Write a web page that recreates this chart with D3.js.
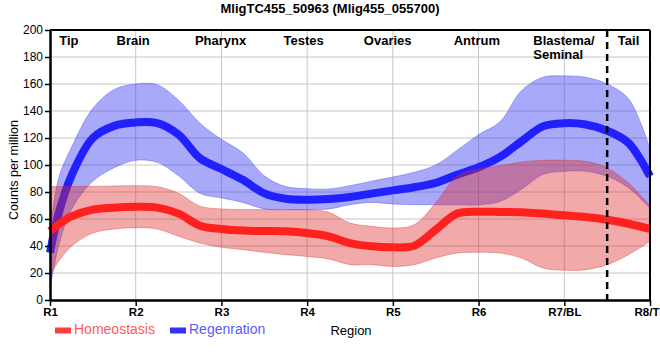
<!DOCTYPE html>
<html>
<head>
<meta charset="utf-8">
<script src="https://cdn.jsdelivr.net/npm/d3@7"></script>
<style>
  body { margin: 0; background: #fff; }
  text { font-family: "Liberation Sans", Arial, sans-serif; }
</style>
</head>
<body>
<svg class="chart" width="660" height="360"></svg>
<script>
// region ticks along the x axis
const regions = ["R1", "R2", "R3", "R4", "R5", "R6", "R7/BL", "R8/TL"];

// sample positions along the worm (in region units, R1 = 0)
const pos = [0, 0.1, 0.25, 0.5, 0.75, 1, 1.25, 1.5, 1.75, 2, 2.25, 2.5, 2.75, 3, 3.25, 3.5,
  3.75, 4, 4.25, 4.5, 4.75, 5, 5.25, 5.5, 5.75, 6, 6.25, 6.5, 6.75, 7];

// Homeostasis
const homeoMean = [51, 56, 62, 67, 68.4, 69, 68.4, 64, 55, 52.6, 51.4, 51.1, 50.9, 49.6, 47.2, 42.2,
  39.8, 39, 40.2, 52, 64, 65.4, 65.2, 65, 64, 62.7, 61.5, 59.5, 56.5, 52.6];
const homeoHigh = [84, 84, 84, 84.2, 84.5, 84.7, 84, 79, 69.5, 67.5, 67, 67, 66.9, 66.9, 65, 57,
  54.6, 53.3, 55.8, 72, 91.6, 97, 99.5, 102.2, 103.5, 103.5, 102.7, 97.8, 86.7, 70];
const homeoLow = [18, 28.6, 39.8, 49.6, 52.6, 53.6, 52.6, 47.2, 42.2, 39, 37.3, 35.3, 33.6, 32.3, 30.4, 26.2,
  26.2, 24.9, 26.2, 31.1, 34.8, 35.3, 34.8, 31.1, 23.7, 22, 22.5, 26.2, 33.6, 43.5];

// Regeneration
const regenMean = [35, 64, 92, 120, 129, 131.5, 131, 122.5, 105, 97, 89, 79, 75, 74.3, 74.8, 76.3,
  78.8, 81.2, 83.5, 86.7, 92.8, 98.3, 106, 117.5, 128.6, 131, 130, 125.4, 116.3, 91.6];
const regenHigh = [50, 90, 113, 142, 156, 160, 159.5, 148, 131, 119, 109, 92, 84, 82.5, 82.2, 84.7,
  88, 91.1, 94.6, 100, 111, 122.5, 132, 155, 165, 166, 165, 160, 149, 112];
const regenLow = [8, 40, 67, 88, 98, 103.5, 102, 92, 79, 75.6, 72.3, 67.5, 67, 67, 67.4, 70.6,
  72.3, 71.1, 70.6, 70.6, 70.6, 70.6, 73, 82, 93, 95.3, 95.3, 91.6, 83, 68];

// body part labels on top of the plot
const parts = ["Tip", "Brain", "Pharynx", "Testes", "Ovaries", "Antrum", "Blastema/", "Tail"];
const partPos = [0.22, 0.97, 1.99, 2.96, 3.94, 4.98, 6.0, 6.75];

const yTicks = d3.range(0, 201, 20);

const margin = { top: 30, right: 10, bottom: 60, left: 50 };
const width = 660 - margin.left - margin.right;
const height = 360 - margin.top - margin.bottom;

const svg = d3.select(".chart");
const chart = svg.append("g").attr("transform", `translate(${margin.left}, ${margin.top})`);

const xScale = d3.scaleLinear().domain([0, 7]).range([0, width]);
const yScale = d3.scaleLinear().domain([0, 200]).range([height, 0]);

// grid
chart.append("g")
  .selectAll("line")
  .data(yTicks.slice(1, -1))
  .enter()
  .append("line")
  .attr("x1", 0).attr("x2", width)
  .attr("y1", d => yScale(d)).attr("y2", d => yScale(d))
  .attr("stroke", "#c6c6c6");
chart.append("g")
  .selectAll("line")
  .data(d3.range(1, 7))
  .enter()
  .append("line")
  .attr("x1", d => xScale(d)).attr("x2", d => xScale(d))
  .attr("y1", 0).attr("y2", height)
  .attr("stroke", "#c6c6c6");

const curve = d3.curveCatmullRom.alpha(0.5);
const band = (hi, lo) => d3.area()
  .x((d, i) => xScale(pos[i]))
  .y0((d, i) => yScale(lo[i]))
  .y1((d, i) => yScale(hi[i]))
  .curve(curve)(pos);
const line = vals => d3.line()
  .x((d, i) => xScale(pos[i]))
  .y(d => yScale(d))
  .curve(curve)(vals);

// regeneration first, homeostasis drawn over it
chart.append("path")
  .attr("d", band(regenHigh, regenLow))
  .attr("fill", "rgba(50,50,240,0.42)")
  .attr("stroke", "rgba(50,50,240,0.35)");
chart.append("path")
  .attr("d", line(regenMean))
  .attr("fill", "none")
  .attr("stroke", "#2121ff")
  .attr("stroke-width", 8);

chart.append("path")
  .attr("d", band(homeoHigh, homeoLow))
  .attr("fill", "rgba(220,40,40,0.4)")
  .attr("stroke", "rgba(220,40,40,0.35)");
chart.append("path")
  .attr("d", line(homeoMean))
  .attr("fill", "none")
  .attr("stroke", "#ff2020")
  .attr("stroke-width", 8);

// dashed tail boundary
chart.append("line")
  .attr("x1", xScale(6.5)).attr("x2", xScale(6.5))
  .attr("y1", 0).attr("y2", height + 6)
  .attr("stroke", "#000")
  .attr("stroke-width", 2.5)
  .attr("stroke-dasharray", "7,5");

// frame top and right
chart.append("line").attr("x1", 0).attr("x2", width).attr("y1", 0).attr("y2", 0)
  .attr("stroke", "#000").attr("stroke-width", 2);
chart.append("line").attr("x1", width).attr("x2", width).attr("y1", 0).attr("y2", height)
  .attr("stroke", "#000").attr("stroke-width", 2);

// axes
const xAxis = chart.append("g")
  .attr("transform", `translate(0, ${height})`)
  .call(d3.axisBottom(xScale).tickValues(d3.range(8)).tickFormat(i => regions[i])
    .tickSize(6).tickSizeOuter(0).tickPadding(2));
xAxis.selectAll("text")
  .attr("fill", "#000")
  .style("font-size", "11.5px")
  .style("font-weight", "bold");

const yAxis = chart.append("g")
  .call(d3.axisLeft(yScale).tickValues(yTicks).tickSize(5).tickSizeOuter(0).tickPadding(2));
yAxis.selectAll("text")
  .attr("fill", "#000")
  .style("font-size", "12px");

chart.selectAll(".domain").attr("stroke", "#000").attr("stroke-width", 2.5);
chart.selectAll(".tick line").attr("stroke", "#000").attr("stroke-width", 1.5);

// part labels
chart.append("g")
  .selectAll("text")
  .data(parts)
  .enter()
  .append("text")
  .attr("x", (d, i) => xScale(partPos[i]))
  .attr("y", 14.5)
  .attr("text-anchor", (d, i) => i === 6 ? "start" : "middle")
  .attr("dx", (d, i) => i === 6 ? -31 : 0)
  .style("font-size", "13px")
  .style("font-weight", "bold")
  .text(d => d);
chart.append("text")
  .attr("x", xScale(6.0) - 31)
  .attr("y", 28.5)
  .style("font-size", "13px")
  .style("font-weight", "bold")
  .text("Seminal");

// title & axis titles
svg.append("text")
  .attr("x", 330).attr("y", 13)
  .attr("text-anchor", "middle")
  .style("font-size", "13px")
  .style("font-weight", "bold")
  .text("MligTC455_50963 (Mlig455_055700)");

svg.append("text")
  .attr("transform", "translate(18, 170) rotate(-90)")
  .attr("text-anchor", "middle")
  .style("font-size", "12.5px")
  .text("Counts per million");

svg.append("text")
  .attr("x", 351).attr("y", 335)
  .attr("text-anchor", "middle")
  .style("font-size", "13px")
  .text("Region");

// legend
const legend = [
  { name: "Homeostasis", box: "#ff3b3b", text: "#ff5a5a" },
  { name: "Regenration", box: "#3333ff", text: "#5a5aff" }
];
const lg = svg.append("g").attr("transform", "translate(55, 334)");
legend.forEach((d, i) => {
  const g = lg.append("g").attr("transform", `translate(${i * 115}, 0)`);
  g.append("rect").attr("x", 0).attr("y", -6.5).attr("width", 16).attr("height", 6).attr("fill", d.box);
  g.append("text").attr("x", 19).attr("y", 0).attr("fill", d.text)
    .style("font-size", "14px").text(d.name);
});
</script>
</body>
</html>
